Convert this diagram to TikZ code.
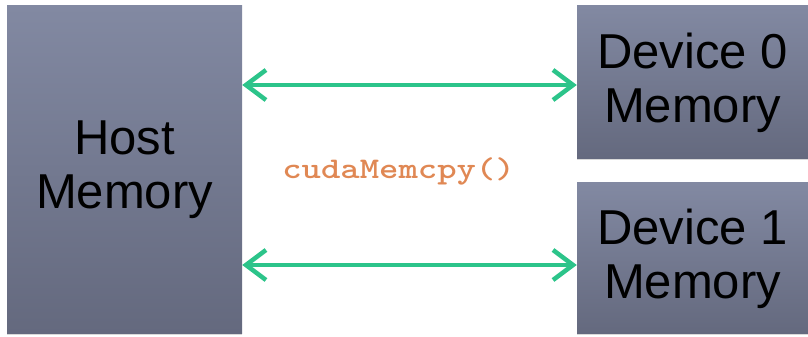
\documentclass[tikz,border=0pt]{standalone}
\usepackage{fontspec}
\setmainfont{Liberation Sans}
\usetikzlibrary{arrows.meta,shadows}
\definecolor{boxtop}{RGB}{130,137,162}
\definecolor{boxbot}{RGB}{100,105,126}
\definecolor{arrowgreen}{RGB}{44,196,138}
\definecolor{codeorange}{RGB}{224,136,84}
\tikzset{
  membox/.style={draw=none, top color=boxtop, bottom color=boxbot,
    inner sep=0pt, align=center, text=black,
    font=\fontsize{49}{54}\selectfont,
    drop shadow={shadow xshift=0pt, shadow yshift=-1.5pt, fill=black!25, opacity=0.6}},
  link/.style={arrowgreen, line width=4.5pt,
    {Straight Barb[length=20pt,width=30pt,line width=4.5pt]}-{Straight Barb[length=20pt,width=30pt,line width=4.5pt]}}
}
\begin{document}
\begin{tikzpicture}[x=1pt,y=1pt]
\useasboundingbox (0,0) rectangle (808,337);
\node[membox, minimum width=235pt, minimum height=328pt] (host) at (124.5,167) {Host\\Memory};
\node[membox, minimum width=231pt, minimum height=153pt] (dev0) at (692.5,254.5) {Device 0\\Memory};
\node[membox, minimum width=231pt, minimum height=151pt] (dev1) at (692.5,78.5) {Device 1\\Memory};
\draw[link] (host.east |- 0,252) -- (dev0.west |- 0,252);
\draw[link] (host.east |- 0,72) -- (dev1.west |- 0,72);
\node[text=codeorange, font=\ttfamily\bfseries\fontsize{30}{30}\selectfont, xscale=1.23] (call) at (398.5,166) {cudaMemcpy()};
\end{tikzpicture}
\end{document}
